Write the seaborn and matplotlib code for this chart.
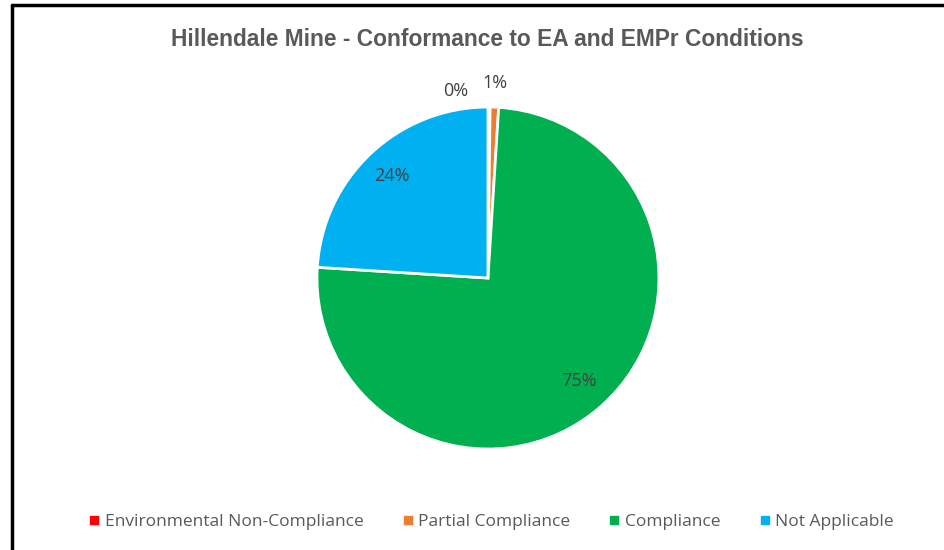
import numpy as np
import matplotlib
matplotlib.use("Agg")
import matplotlib.pyplot as plt
from matplotlib.lines import Line2D
import seaborn as sns

# data
categories = ['Environmental Non-Compliance', 'Partial Compliance', 'Compliance', 'Not Applicable']
shares = [0.2, 0.8, 75.0, 24.0]
pct_labels = ['0%', '1%', '75%', '24%']
colours = ['#FF0000', '#ED7D31', '#00B050', '#00B0F0']

sns.set_theme(style="white")
plt.rcParams['font.family'] = ['Liberation Sans', 'DejaVu Sans']

fig = plt.figure(figsize=(9.45, 5.5), dpi=100)
ax = fig.add_axes([0.3354, 0.1836, 0.3619, 0.6218])

wedges, _ = ax.pie(shares, colors=colours, startangle=90, counterclock=False,
                   wedgeprops=dict(edgecolor='white', linewidth=2))
ax.set_aspect('equal')
ax.set_xlim(-1, 1)
ax.set_ylim(-1, 1)

# percentage labels, placed along each wedge's mid angle
label_r = [1.11, 1.14, 0.80, 0.82]
angle_shift = [10, 0, 0, 0]  # push the 0% label off the 1% one, like Excel does
for w, txt, r, sh in zip(wedges, pct_labels, label_r, angle_shift):
    mid = np.deg2rad((w.theta1 + w.theta2) / 2 + sh)
    ax.text(r * np.cos(mid), r * np.sin(mid), txt, ha='center', va='center',
            fontsize=13, color='#404040', family=['Open Sans', 'DejaVu Sans'],
            clip_on=False)

fig.text(0.5153, 0.928, 'Hillendale Mine - Conformance to EA and EMPr Conditions',
         ha='center', va='center', fontsize=16.4, fontweight='bold', color='#595959')

handles = [Line2D([], [], marker='s', linestyle='', color=c, markersize=6) for c in colours]
fig.legend(handles, categories, loc='center', bbox_to_anchor=(0.519, 0.051), ncol=4,
           frameon=False, handletextpad=0.2, columnspacing=2.15, handlelength=0.8,
           prop=dict(family=['Open Sans', 'DejaVu Sans'], size=12.5), labelcolor='#595959')

# frame lines along top and left edge as in the screenshot
fig.add_artist(Line2D([0.0125, 1.0], [0.9905, 0.9905], transform=fig.transFigure, color='black', lw=2.5))
fig.add_artist(Line2D([0.0125, 0.0125], [0.0, 0.9905], transform=fig.transFigure, color='black', lw=2.5))

fig.savefig('out.png', dpi=100)
